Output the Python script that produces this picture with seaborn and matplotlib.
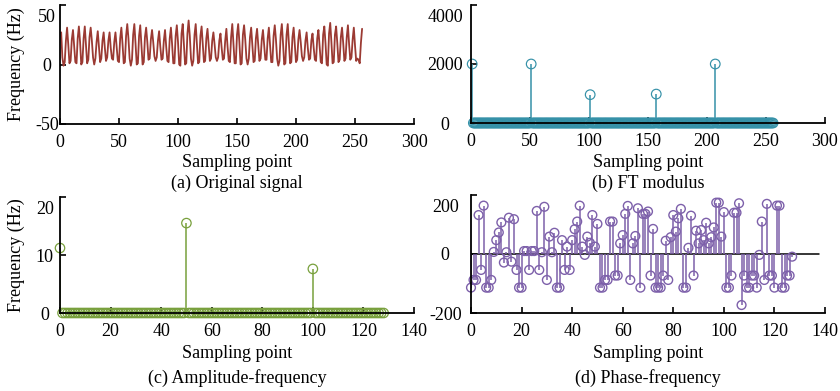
import numpy as np
import pandas as pd
import matplotlib
matplotlib.use("Agg")
import matplotlib.pyplot as plt
import matplotlib.transforms as mtransforms
import seaborn as sns

# ---------------- data ----------------
signal = [
    27, 6, -1, 2, 20, 31, 17, 1, 3, 21, 29, 15, 2, 1, 22, 32, 19, 0, 2, 22,
    32, 17, 1, 4, 23, 31, 20, 6, 0, 5, 19, 28, 15, 2, 5, 20, 27, 14, 3, 6,
    20, 27, 14, 5, 4, 19, 27, 15, 3, 2, 22, 31, 17, 1, 2, 24, 34, 22, 5, -1,
    4, 25, 34, 18, 0, 1, 24, 33, 17, 0, 2, 23, 31, 19, 4, 5, 21, 29, 19, 7,
    3, 6, 20, 28, 15, 4, 5, 20, 29, 15, 3, 2, 22, 31, 17, 1, 1, 24, 33, 19,
    0, -1, 26, 34, 17, 0, 1, 26, 37, 24, 5, -1, 3, 25, 34, 18, 1, 2, 24, 32,
    17, 2, 3, 22, 30, 16, 3, 5, 20, 27, 17, 6, 3, 6, 20, 26, 14, 4, 5, 20,
    30, 15, 3, 2, 23, 34, 18, 1, 1, 25, 34, 19, 0, 1, 25, 33, 21, 5, 0, 5,
    23, 31, 17, 2, 3, 22, 30, 16, 3, 5, 21, 29, 16, 4, 4, 22, 31, 16, 2, 2,
    24, 33, 21, 5, -1, 3, 25, 34, 18, 0, 1, 25, 34, 18, 1, 2, 23, 31, 17, 2,
    4, 21, 29, 19, 7, 3, 6, 20, 27, 14, 4, 5, 20, 26, 14, 4, 3, 22, 29, 16,
    2, 1, 25, 32, 18, 0, -1, 26, 35, 19, 1, 2, 25, 32, 18, 2, 4, 23, 31, 18,
    3, 5, 23, 33, 17, 4, 6, 21, 31, 16, 3, 5, 4, 1, 18, 30,
]

ft_modulus = [
    2000, 0, 0, 0, 0, 0, 0, 0,
    0, 0, 0, 0, 0, 0, 0, 0,
    0, 0, 0, 0, 0, 0, 0, 0,
    0, 0, 0, 0, 0, 0, 0, 0,
    0, 0, 0, 0, 0, 0, 0, 0,
    0, 0, 0, 0, 0, 0, 0, 0,
    0, 0, 2000, 0, 0, 0, 0, 0,
    0, 0, 0, 0, 0, 0, 0, 0,
    0, 0, 0, 0, 0, 0, 0, 0,
    0, 0, 0, 0, 0, 0, 0, 0,
    0, 0, 0, 0, 0, 0, 0, 0,
    0, 0, 0, 0, 0, 0, 0, 0,
    0, 0, 0, 0, 960, 0, 0, 0,
    0, 0, 0, 0, 0, 0, 0, 0,
    0, 0, 0, 0, 0, 0, 0, 0,
    0, 0, 0, 0, 0, 0, 0, 0,
    0, 0, 0, 0, 0, 0, 0, 0,
    0, 0, 0, 0, 0, 0, 0, 0,
    0, 0, 0, 0, 0, 0, 0, 0,
    0, 0, 0, 0, 980, 0, 0, 0,
    0, 0, 0, 0, 0, 0, 0, 0,
    0, 0, 0, 0, 0, 0, 0, 0,
    0, 0, 0, 0, 0, 0, 0, 0,
    0, 0, 0, 0, 0, 0, 0, 0,
    0, 0, 0, 0, 0, 0, 0, 0,
    0, 0, 0, 0, 0, 0, 2000, 0,
    0, 0, 0, 0, 0, 0, 0, 0,
    0, 0, 0, 0, 0, 0, 0, 0,
    0, 0, 0, 0, 0, 0, 0, 0,
    0, 0, 0, 0, 0, 0, 0, 0,
    0, 0, 0, 0, 0, 0, 0, 0,
    0, 0, 0, 0, 0, 0, 0, 0,
]

amplitude = [
    11.2, 0, 0, 0, 0, 0, 0, 0,
    0, 0, 0, 0, 0, 0, 0, 0,
    0, 0, 0, 0, 0, 0, 0, 0,
    0, 0, 0, 0, 0, 0, 0, 0,
    0, 0, 0, 0, 0, 0, 0, 0,
    0, 0, 0, 0, 0, 0, 0, 0,
    0, 0, 15.5, 0, 0, 0, 0, 0,
    0, 0, 0, 0, 0, 0, 0, 0,
    0, 0, 0, 0, 0, 0, 0, 0,
    0, 0, 0, 0, 0, 0, 0, 0,
    0, 0, 0, 0, 0, 0, 0, 0,
    0, 0, 0, 0, 0, 0, 0, 0,
    0, 0, 0, 0, 7.6, 0, 0, 0,
    0, 0, 0, 0, 0, 0, 0, 0,
    0, 0, 0, 0, 0, 0, 0, 0,
    0, 0, 0, 0, 0, 0, 0, 0,
    0,
]

phase = [
    -114, -88, -88, 132, -54, 164, -114, -114, -88, 7, 47, 73, 107, -29, 6, 123,
    -26, 118, -54, -114, -114, 10, 10, -54, 10, 10, 146, -54, 6, 160, -88, 59,
    6, 72, -114, -114, 47, -54, 25, -54, 47, 84, 110, 164, 25, -3, 59, 38,
    132, 25, 102, -114, -114, -88, -88, 110, 110, -73, -73, 36, 64, 136, 163, -88,
    36, 61, 155, -114, 136, 136, 144, -73, 85, -114, -114, -114, -73, 45, -88, 57,
    132, 76, 121, 153, -114, -114, 21, 130, -73, 79, 36, 81, 47, 106, 36, 57,
    90, 174, 174, 59, 142, -114, -114, -73, 140, 140, 172, -173, -73, -114, -114, -73,
    -73, -114, -3, 110, -88, 170, -73, -73, -114, 164, 164, -114, -114, -73, -73, -9,
]

signal_x = list(range(1, len(signal) + 1))
ft_x = list(range(1, len(ft_modulus) + 1))
amp_x = list(range(0, len(amplitude)))
phase_x = list(range(0, len(phase)))

c_sig = "#9B3A33"
c_ft = "#3591A8"
c_amp = "#78A03C"
c_ph = "#7D60AA"

# ---------------- style ----------------
sns.set_theme(style="ticks")
plt.rcParams["font.family"] = ["Liberation Serif", "DejaVu Serif"]
plt.rcParams["axes.unicode_minus"] = False

FS = 13
W, H = 840, 391
fig = plt.figure(figsize=(8.4, 3.91), dpi=100)
fig.patch.set_facecolor("white")


def add_ax(l, r, b, t):
    return fig.add_axes([l / W, 1 - b / H, (r - l) / W, (b - t) / H])


def style(ax, xlim, xticks, ylim, yticks, ypad, ylabel=None):
    ax.set_facecolor("white")
    for s in ["top", "right"]:
        ax.spines[s].set_visible(False)
    for s in ["left", "bottom"]:
        ax.spines[s].set_color("black")
        ax.spines[s].set_linewidth(1.3)
        ax.spines[s].set_zorder(5)
    ax.set_xlim(*xlim)
    ax.set_ylim(*ylim)
    ax.set_xticks(xticks)
    ax.set_yticks(yticks)
    ax.tick_params(axis="both", direction="in", length=4, width=1.2,
                   colors="black", labelsize=FS)
    ax.tick_params(axis="x", pad=7)
    ax.tick_params(axis="y", pad=ypad)
    ax.set_xticklabels([str(v) for v in xticks])
    ax.set_yticklabels([str(v) for v in yticks])
    for lbl in ax.get_yticklabels():
        lbl.set_horizontalalignment("center")
    top = ax.yaxis.get_major_ticks()[-1].label1
    top.set_transform(top.get_transform() +
                      mtransforms.ScaledTranslation(0, -0.10, fig.dpi_scale_trans))
    ax.grid(False)
    if ylabel:
        ax.set_ylabel(ylabel, fontsize=FS, color="black")
        ax.yaxis.set_label_coords(-0.098, 0.5)


def labels(ax, xl_y, sub_y, sub):
    l, b, w, h = ax.get_position().bounds
    cx = l + w / 2
    fig.text(cx, 1 - xl_y / H, "Sampling point", ha="center", va="center",
             fontsize=FS, color="black")
    fig.text(cx, 1 - sub_y / H, sub, ha="center", va="center",
             fontsize=FS, color="black")


def stems(ax, x, y, color, lw=1.1, size=36, baseline=False):
    ax.vlines(x, 0, y, color=color, linewidth=1.1, zorder=3)
    sns.scatterplot(x=x, y=y, ax=ax, marker="o", s=size, facecolors="none",
                    edgecolor=color, linewidth=lw, zorder=4, clip_on=False,
                    legend=False)
    if baseline:
        ax.axhline(0, xmin=0, xmax=0.982, color="black", linewidth=1.1, zorder=2)


# (a) Original signal
axA = add_ax(60, 414, 124, 5)
df_sig = pd.DataFrame({"n": signal_x, "v": signal})
sns.lineplot(data=df_sig, x="n", y="v", ax=axA, color=c_sig, linewidth=1.3)
axA.set_xlabel("")
style(axA, (0, 300), [0, 50, 100, 150, 200, 250, 300], (-50, 50), [-50, 0, 50],
      9.5, "Frequency (Hz)")
labels(axA, 163, 183, "(a) Original signal")

# (b) FT modulus
axB = add_ax(471, 825, 123, 5)
stems(axB, ft_x, ft_modulus, c_ft, lw=0.85, size=48)
style(axB, (0, 300), [0, 50, 100, 150, 200, 250, 300], (0, 4000), [0, 2000, 4000],
      18.5)
axB.set_xlabel("")
axB.set_ylabel("")
labels(axB, 163, 183, "(b) FT modulus")

# (c) Amplitude-frequency
axC = add_ax(60, 414, 313, 197)
stems(axC, amp_x, amplitude, c_amp, lw=0.9, size=46)
style(axC, (0, 140), [0, 20, 40, 60, 80, 100, 120, 140], (0, 20), [0, 10, 20],
      11, "Frequency (Hz)")
axC.set_xlabel("")
labels(axC, 353, 378, "(c) Amplitude-frequency")

# (d) Phase-frequency
axD = add_ax(471, 825, 313, 195)
stems(axD, phase_x, phase, c_ph, lw=1.0, size=40, baseline=True)
style(axD, (0, 140), [0, 20, 40, 60, 80, 100, 120, 140], (-200, 200), [-200, 0, 200],
      18.5)
axD.set_xlabel("")
axD.set_ylabel("")
labels(axD, 353, 378, "(d) Phase-frequency")

fig.savefig("out.png", dpi=100, facecolor="white")
